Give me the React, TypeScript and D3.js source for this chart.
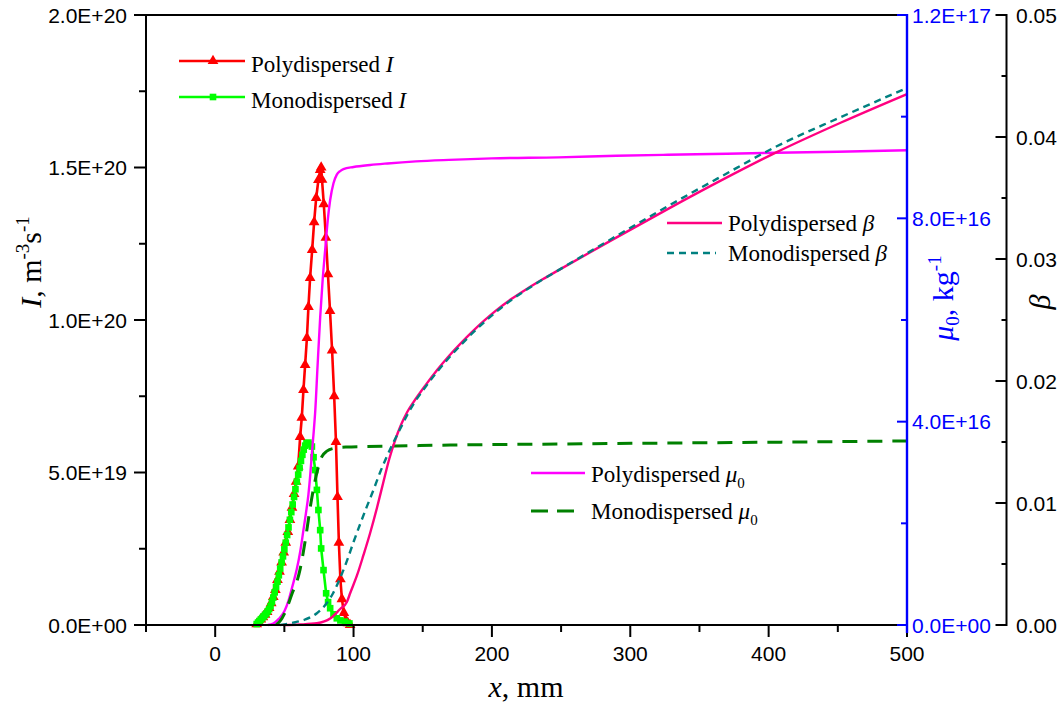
import React from "react";
import * as d3 from "d3";

// ---------- axes ----------
const xMajorTicks = [0, 100, 200, 300, 400, 500];
const xMinorTicks = [-50, 50, 150, 250, 350, 450];
const iMajorTicks = [0, 0.5, 1, 1.5, 2]; // ×1e20
const iTickLabels = ["0.0E+00", "5.0E+19", "1.0E+20", "1.5E+20", "2.0E+20"];
const iMinorTicks = [0.25, 0.75, 1.25, 1.75];
const muMajorTicks = [0, 4, 8, 12]; // ×1e16
const muTickLabels = ["0.0E+00", "4.0E+16", "8.0E+16", "1.2E+17"];
const muMinorTicks = [2, 6, 10];
const betaMajorTicks = [0, 0.01, 0.02, 0.03, 0.04, 0.05];
const betaTickLabels = ["0.00", "0.01", "0.02", "0.03", "0.04", "0.05"];
const betaMinorTicks = [0.005, 0.015, 0.025, 0.035, 0.045];

// ---------- data ----------
// Polydispersed I (×1e20 m^-3 s^-1)
const polyIX = [30, 31.5, 33, 34.5, 36, 37.5, 39, 40.5, 42, 43.5, 45, 46.5, 48, 49.5, 51, 52.5, 54, 55.5, 57, 58.5, 60, 61.4, 62.6, 63.8, 65, 66.3, 67.4, 68.6, 70.1, 71.5, 73, 74.6, 75.9, 76.6, 77.2, 78.5, 80, 81.5, 83, 84.5, 86, 87.3, 88.4, 89.4, 90.5, 91.6, 93, 94.5, 96, 97.5];
const polyI = [0.003, 0.01, 0.018, 0.026, 0.034, 0.043, 0.056, 0.072, 0.092, 0.115, 0.148, 0.175, 0.205, 0.238, 0.27, 0.305, 0.345, 0.385, 0.43, 0.47, 0.52, 0.617, 0.68, 0.771, 0.853, 0.941, 1.043, 1.138, 1.23, 1.321, 1.4, 1.459, 1.492, 1.5, 1.46, 1.38, 1.27, 1.15, 1.03, 0.9, 0.75, 0.6, 0.42, 0.27, 0.15, 0.085, 0.04, 0.016, 0.006, 0];

// Monodispersed I (×1e20)
const monoIX = [30, 31, 32, 33, 34, 35, 36, 37, 38, 39, 40, 41, 42, 43, 44, 45, 46, 47, 48, 49, 50, 51, 52, 53, 54, 55, 56, 57, 58, 59, 60, 61, 62, 63, 64, 65, 66, 67.4, 68.7, 69.9, 71.1, 72.3, 73.5, 74.6, 75.9, 76.6, 78.3, 80.2, 81.6, 83.1, 85.5, 87.9, 90.5, 93.9, 97];
const monoI = [0.003, 0.008, 0.013, 0.018, 0.023, 0.028, 0.033, 0.038, 0.045, 0.052, 0.062, 0.075, 0.09, 0.107, 0.125, 0.142, 0.163, 0.185, 0.205, 0.225, 0.248, 0.27, 0.295, 0.32, 0.345, 0.37, 0.395, 0.42, 0.445, 0.47, 0.493, 0.515, 0.538, 0.558, 0.575, 0.588, 0.596, 0.598, 0.592, 0.585, 0.55, 0.508, 0.443, 0.377, 0.311, 0.251, 0.18, 0.104, 0.075, 0.055, 0.035, 0.022, 0.015, 0.011, 0.005];

// Polydispersed mu0 (×1e16 kg^-1)
const polyMuX = [38, 42, 46, 50, 53, 56, 59, 61.5, 63.8, 65.6, 67.4, 68.7, 69.9, 71.2, 72.3, 74, 75.9, 77.7, 79.5, 81.3, 83.1, 85.5, 87.9, 90.3, 92.7, 100, 112, 124.5, 145, 169, 200, 248, 290, 327, 370, 405.6, 450, 500];
const polyMu = [0, 0.03, 0.12, 0.27, 0.48, 0.78, 1.1, 1.45, 1.87, 2.2, 2.57, 2.95, 3.38, 3.8, 4.2, 5.1, 6.06, 6.8, 7.38, 7.95, 8.36, 8.69, 8.86, 8.93, 8.97, 9.01, 9.05, 9.08, 9.12, 9.15, 9.18, 9.2, 9.23, 9.25, 9.27, 9.29, 9.31, 9.34];

// Monodispersed mu0 (×1e16 kg^-1)
const monoMuX = [44, 47, 50, 53, 56, 59, 61.4, 63.8, 65.6, 68.6, 72.3, 74.5, 77.1, 80.7, 86.7, 95, 110, 130, 170, 248, 330, 420, 500];
const monoMu = [0, 0.08, 0.22, 0.42, 0.65, 0.85, 1.1, 1.45, 1.75, 2.3, 2.85, 3.1, 3.31, 3.42, 3.48, 3.5, 3.51, 3.52, 3.54, 3.56, 3.58, 3.6, 3.62];

// Polydispersed beta
const polyBX = [49.1, 61.4, 73.5, 83.1, 90.3, 95.2, 97.6, 102.6, 107.2, 112.0, 116.9, 121.4, 125.8, 130.1, 134.4, 138.8, 143.1, 151.8, 160.4, 169.1, 177.8, 185.7, 194.4, 203.1, 214.3, 225.5, 236.7, 247.9, 286.9, 326.7, 365.7, 405.5, 452.4, 500];
const polyB = [0, 0.00004, 0.00014, 0.00053, 0.00131, 0.00189, 0.00262, 0.0041, 0.00574, 0.00754, 0.00959, 0.01164, 0.01361, 0.01516, 0.01643, 0.01746, 0.01823, 0.01962, 0.0209, 0.02207, 0.02313, 0.02403, 0.02495, 0.02579, 0.02674, 0.02757, 0.02834, 0.02907, 0.03157, 0.03407, 0.03644, 0.03874, 0.04119, 0.04352];

// Monodispersed beta
const monoBX = [47.0, 56.4, 65.0, 73.5, 80.7, 85.3, 90.3, 95.2, 100.0, 104.8, 109.6, 114.4, 119.3, 123.6, 127.9, 134.4, 138.8, 143.1, 151.8, 160.4, 169.1, 177.8, 185.7, 194.4, 203.1, 214.3, 225.5, 236.7, 247.9, 286.9, 326.7, 365.7, 405.5, 452.4, 500];
const monoB = [0, 0.00019, 0.00045, 0.00096, 0.0018, 0.00262, 0.00385, 0.00525, 0.0068, 0.00828, 0.0097, 0.01107, 0.01254, 0.01369, 0.01475, 0.01623, 0.01721, 0.01807, 0.01948, 0.02075, 0.02192, 0.02298, 0.0239, 0.02482, 0.02567, 0.02666, 0.02752, 0.02832, 0.02907, 0.03168, 0.0343, 0.03676, 0.03922, 0.04164, 0.04402];

const SERIF = "'Liberation Serif', 'Times New Roman', serif";
const SANS = "'Liberation Sans', Arial, sans-serif";

type P = [number, number];
const zip = (xs: number[], ys: number[]): P[] => xs.map((v, i) => [v, ys[i]] as P);

export default function App() {
  const L = 146, R = 907, T = 15, B = 625;
  const BETA_X = 1006.5;
  const x = d3.scaleLinear().domain([-50, 500]).range([L, R]);
  const yI = d3.scaleLinear().domain([0, 2]).range([B, T]);
  const yMu = d3.scaleLinear().domain([0, 12]).range([B, T]);
  const yB = d3.scaleLinear().domain([0, 0.05]).range([B, T]);

  const mkLine = (y: d3.ScaleLinear<number, number>, curve: d3.CurveFactory) =>
    d3.line<P>().x((d) => x(d[0])).y((d) => y(d[1])).curve(curve);

  const polyIPts = zip(polyIX, polyI);
  const monoIPts = zip(monoIX, monoI);
  const tri = d3.symbol().type(d3.symbolTriangle).size(50)() as string;
  const sq = d3.symbol().type(d3.symbolSquare).size(44)() as string;

  const tickFont = { fontFamily: SANS, fontSize: 21 };

  return (
    <svg width={1064} height={709} style={{ position: "absolute", left: 0, top: 0, background: "#fff" }}>
      <rect x={0} y={0} width={1064} height={709} fill="#fff" />

      {/* curves */}
      <path d={mkLine(yI, d3.curveLinear)(polyIPts) || ""} fill="none" stroke="#FF0000" strokeWidth={2.6} />
      {polyIPts.map((d, i) => (
        <path key={"pt" + i} d={tri} transform={`translate(${x(d[0])},${yI(d[1])})`} fill="#FF0000" />
      ))}
      <path d={mkLine(yI, d3.curveLinear)(monoIPts) || ""} fill="none" stroke="#00FF00" strokeWidth={2.6} />
      {monoIPts.map((d, i) => (
        <path key={"ps" + i} d={sq} transform={`translate(${x(d[0])},${yI(d[1])})`} fill="#00FF00" />
      ))}
      <path d={mkLine(yMu, d3.curveMonotoneX)(zip(polyMuX, polyMu)) || ""} fill="none" stroke="#FF00FF" strokeWidth={2.4} />
      <path d={mkLine(yMu, d3.curveMonotoneX)(zip(monoMuX, monoMu)) || ""} fill="none" stroke="#008000" strokeWidth={3} strokeDasharray="15,10" />
      <path d={mkLine(yB, d3.curveMonotoneX)(zip(polyBX, polyB)) || ""} fill="none" stroke="#FF0080" strokeWidth={2.4} />
      <path d={mkLine(yB, d3.curveMonotoneX)(zip(monoBX, monoB)) || ""} fill="none" stroke="#008080" strokeWidth={2.4} strokeDasharray="7,5" />

      {/* frame */}
      <line x1={L} x2={R} y1={T} y2={T} stroke="#000" strokeWidth={2} />
      <line x1={L} x2={R} y1={B} y2={B} stroke="#000" strokeWidth={2} />
      <line x1={L} x2={L} y1={T - 1} y2={B + 1} stroke="#000" strokeWidth={2} />

      {/* bottom axis */}
      {xMajorTicks.map((t) => (
        <g key={"xt" + t}>
          <line x1={x(t)} x2={x(t)} y1={B} y2={B + 12} stroke="#000" strokeWidth={2} />
          <text x={x(t)} y={661} textAnchor="middle" {...tickFont}>{t}</text>
        </g>
      ))}
      {xMinorTicks.map((t) => (
        <line key={"xm" + t} x1={x(t)} x2={x(t)} y1={B} y2={B + 7} stroke="#000" strokeWidth={2} />
      ))}

      {/* left axis */}
      {iMajorTicks.map((t, i) => (
        <g key={"it" + t}>
          <line x1={L - 12} x2={L} y1={yI(t)} y2={yI(t)} stroke="#000" strokeWidth={2} />
          <text x={127} y={yI(t)} dy="0.36em" textAnchor="end" {...tickFont}>{iTickLabels[i]}</text>
        </g>
      ))}
      {iMinorTicks.map((t) => (
        <line key={"im" + t} x1={L - 7} x2={L} y1={yI(t)} y2={yI(t)} stroke="#000" strokeWidth={2} />
      ))}

      {/* blue mu axis */}
      <line x1={R} x2={R} y1={T - 1} y2={B + 8} stroke="#0000FF" strokeWidth={2.4} />
      {muMajorTicks.map((t, i) => (
        <g key={"mt" + t}>
          <line x1={R - 10} x2={R} y1={yMu(t)} y2={yMu(t)} stroke="#0000FF" strokeWidth={2} />
          <text x={912} y={yMu(t)} dy="0.36em" fill="#0000FF" {...tickFont}>{muTickLabels[i]}</text>
        </g>
      ))}
      {muMinorTicks.map((t) => (
        <line key={"mm" + t} x1={R - 6} x2={R} y1={yMu(t)} y2={yMu(t)} stroke="#0000FF" strokeWidth={2} />
      ))}

      {/* beta axis */}
      <line x1={BETA_X} x2={BETA_X} y1={T - 1} y2={B + 1} stroke="#000" strokeWidth={2} />
      {betaMajorTicks.map((t, i) => (
        <g key={"bt" + t}>
          <line x1={BETA_X - 11} x2={BETA_X} y1={yB(t)} y2={yB(t)} stroke="#000" strokeWidth={2} />
          <text x={1016} y={yB(t)} dy="0.36em" {...tickFont}>{betaTickLabels[i]}</text>
        </g>
      ))}
      {betaMinorTicks.map((t) => (
        <line key={"bm" + t} x1={BETA_X - 5} x2={BETA_X} y1={yB(t)} y2={yB(t)} stroke="#000" strokeWidth={2} />
      ))}

      {/* axis titles */}
      <text x={526} y={697} textAnchor="middle" fontFamily={SERIF} fontSize={30}>
        <tspan fontStyle="italic">x</tspan>, mm
      </text>
      <text transform="translate(41,262) rotate(-90)" textAnchor="middle" fontFamily={SERIF} fontSize={30}>
        <tspan fontStyle="italic">I</tspan>
        <tspan>, m</tspan>
        <tspan fontSize={19} dy={-12}>-3</tspan>
        <tspan dy={12}>s</tspan>
        <tspan fontSize={19} dy={-12}>-1</tspan>
      </text>
      <text transform="translate(953,298) rotate(-90)" textAnchor="middle" fontFamily={SERIF} fontSize={30} fill="#0000FF">
        <tspan fontStyle="italic">μ</tspan>
        <tspan fontSize={19} dy={6}>0</tspan>
        <tspan dy={-6}>, kg</tspan>
        <tspan fontSize={19} dy={-12}>-1</tspan>
      </text>
      <text transform="translate(1050,302) rotate(-90)" textAnchor="middle" fontFamily={SERIF} fontSize={30} fontStyle="italic">
        β
      </text>

      {/* legend: I */}
      <line x1={179} x2={245} y1={61} y2={61} stroke="#FF0000" strokeWidth={2.6} />
      <path d={tri} transform="translate(213,61)" fill="#FF0000" />
      <text x={251} y={71.5} fontFamily={SERIF} fontSize={23}>
        Polydispersed <tspan fontStyle="italic">I</tspan>
      </text>
      <line x1={179} x2={245} y1={97} y2={97} stroke="#00FF00" strokeWidth={2.6} />
      <path d={sq} transform="translate(213,97)" fill="#00FF00" />
      <text x={251} y={107.5} fontFamily={SERIF} fontSize={23}>
        Monodispersed <tspan fontStyle="italic">I</tspan>
      </text>

      {/* legend: beta */}
      <line x1={667} x2={722} y1={223} y2={223} stroke="#FF0080" strokeWidth={2.4} />
      <text x={728} y={231} fontFamily={SERIF} fontSize={23}>
        Polydispersed <tspan fontStyle="italic">β</tspan>
      </text>
      <line x1={667} x2={716} y1={253} y2={253} stroke="#008080" strokeWidth={2.4} strokeDasharray="7,5" />
      <text x={728} y={261} fontFamily={SERIF} fontSize={23}>
        Monodispersed <tspan fontStyle="italic">β</tspan>
      </text>

      {/* legend: mu0 */}
      <line x1={531} x2={585} y1={473} y2={473} stroke="#FF00FF" strokeWidth={2.4} />
      <text x={591} y={481.5} fontFamily={SERIF} fontSize={23}>
        Polydispersed <tspan fontStyle="italic">μ</tspan>
        <tspan fontSize={15} dy={6}>0</tspan>
      </text>
      <line x1={531} x2={576} y1={511} y2={511} stroke="#008000" strokeWidth={3} strokeDasharray="17,9" />
      <text x={591} y={519} fontFamily={SERIF} fontSize={23}>
        Monodispersed <tspan fontStyle="italic">μ</tspan>
        <tspan fontSize={15} dy={6}>0</tspan>
      </text>
    </svg>
  );
}
